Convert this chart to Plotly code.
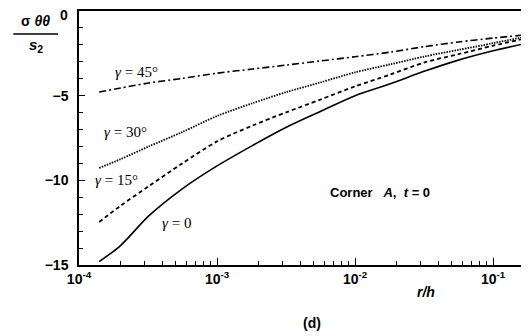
import plotly.graph_objects as go

r_vals = [1.4e-4, 2e-4, 3.2e-4, 5.6e-4, 1e-3, 1.8e-3, 3.2e-3, 5.6e-3,
          1e-2, 1.8e-2, 3.2e-2, 5.6e-2, 1e-1, 1.76e-1]
sig_g0  = [-14.8, -13.85, -12.1, -10.5, -9.15, -7.95, -6.85, -5.93,
           -5.0, -4.3, -3.55, -2.9, -2.35, -1.9]
sig_g15 = [-12.46, -11.5, -10.35, -9.0, -7.7, -6.77, -5.97, -5.23,
           -4.45, -3.75, -3.03, -2.55, -2.05, -1.6]
sig_g30 = [-9.27, -8.75, -8.0, -7.15, -6.2, -5.45, -4.78, -4.22,
           -3.62, -3.15, -2.68, -2.3, -1.9, -1.5]
sig_g45 = [-4.78, -4.55, -4.25, -3.98, -3.67, -3.43, -3.19, -2.95,
           -2.7, -2.43, -2.1, -1.83, -1.6, -1.4]

series = [
    ("γ = 0", sig_g0, "solid", 1.6),
    ("γ = 15°", sig_g15, "4px,3px", 1.8),
    ("γ = 30°", sig_g30, "1.5px,1.2px", 1.8),
    ("γ = 45°", sig_g45, "7px,3px,2px,3px", 1.6),
]

x_tickvals = [1e-4, 1e-3, 1e-2, 1e-1]
x_ticktext = ["10<sup>-4</sup>", "10<sup>-3</sup>", "10<sup>-2</sup>", "10<sup>-1</sup>"]
y_tickvals = [-5, -10, -15]
y_top_label = "0"

fig = go.Figure()
for name, ys, dash, w in series:
    fig.add_trace(go.Scatter(x=r_vals, y=ys, mode="lines", name=name,
                             line=dict(color="black", width=w, dash=dash,
                                       shape="spline", smoothing=0.8)))

# page body has an 8px margin; work in reference pixels then shift
OFF = 8
W, H = 529 - OFF, 336 - OFF
L, R, T, B = 79 - OFF, 0, 11 - OFF, 71
pw, ph = W - L - R, H - T - B

def px(x):
    return (x - OFF - L) / pw

def py(y):
    return (H - B - (y - OFF)) / ph

serif = "Liberation Serif"
sans = "Liberation Sans"

ann = [
    ("<i>γ</i> = 45°", 137, 72, serif, 15),
    ("<i>γ</i> = 30°", 126, 132, serif, 15),
    ("<i>γ</i> = 15°", 117, 180, serif, 15),
    ("<i>γ</i> = 0", 177, 223, serif, 15),
    ("<b>Corner   <i>A</i>,  <i>t</i> = 0</b>", 381, 192, sans, 13),
    ("<b><i>r/h</i></b>", 428, 292, sans, 14),
    ("<b>(d)</b>", 313, 323, sans, 14),
    ("<b>σ <i>θθ</i></b>", 35, 21, sans, 14),
    ("<b><i>s</i><sub>2</sub></b>", 36, 46, sans, 15),
]
annotations = []
for text, x, y, fam, size in ann:
    annotations.append(dict(text=text, x=px(x), y=py(y), xref="paper", yref="paper",
                            showarrow=False, xanchor="center", yanchor="middle",
                            font=dict(family=fam, size=size, color="black")))
# top y tick label (drawn as annotation so it is not dropped at the edge)
annotations.append(dict(text="<b>" + y_top_label + "</b>", x=0, y=0, xref="paper", yref="y",
                        xanchor="right", yanchor="middle", xshift=-9, yshift=-4,
                        showarrow=False,
                        font=dict(family=sans, size=14, color="black")))

fig.add_shape(type="line", xref="paper", yref="paper",
              x0=px(13), x1=px(58), y0=py(34), y1=py(34),
              line=dict(color="black", width=1.5))

fig.update_layout(
    width=W, height=H,
    margin=dict(l=L, r=R, t=T, b=B),
    paper_bgcolor="white", plot_bgcolor="white",
    showlegend=False,
    annotations=annotations,
    xaxis=dict(type="log", range=[-4, -0.755], tickvals=x_tickvals, ticktext=x_ticktext,
               ticks="inside", ticklen=7, tickwidth=1, tickcolor="black",
               minor=dict(ticks="inside", ticklen=4, dtick="D1", tickcolor="black", showgrid=False),
               showline=True, linecolor="black", linewidth=1.5, mirror=True,
               showgrid=False, zeroline=False,
               tickfont=dict(family=sans, size=14, color="black", weight="bold")),
    yaxis=dict(range=[-15, 0], tickvals=y_tickvals,
               ticks="inside", ticklen=6, tickwidth=1, tickcolor="black",
               minor=dict(ticks="inside", ticklen=4, dtick=1, tickcolor="black", showgrid=False),
               showline=True, linecolor="black", linewidth=1.5, mirror=True,
               showgrid=False, zeroline=False, ticklabelstandoff=6,
               tickfont=dict(family=sans, size=14, color="black", weight="bold")),
)

fig.write_html("out.html")
